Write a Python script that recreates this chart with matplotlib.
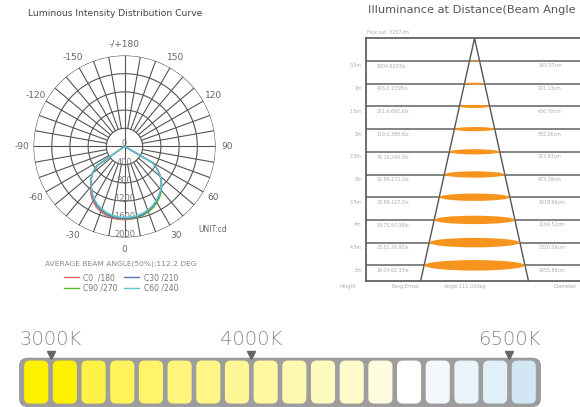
import numpy as np
import matplotlib.pyplot as plt
from matplotlib.patches import Ellipse, FancyBboxPatch

# ---------------- polar intensity data (cd), gamma -90..90 step 5 ----------------
gamma_deg = list(range(-90, 95, 5))
c0_180 = [0, 0, 0, 0, 0, 0, 20, 760, 935, 1050, 1160, 1290, 1390, 1470, 1530, 1570, 1595, 1605,
          1610, 1600, 1582, 1555, 1515, 1465, 1400, 1330, 1250, 1150, 1030, 890, 720, 20, 0, 0, 0, 0, 0]
c30_210 = [0, 0, 0, 0, 0, 0, 20, 750, 920, 1035, 1135, 1250, 1350, 1430, 1490, 1535, 1565, 1580,
           1585, 1580, 1570, 1545, 1505, 1455, 1395, 1320, 1245, 1145, 1025, 885, 715, 20, 0, 0, 0, 0, 0]
c90_270 = [0, 0, 0, 0, 0, 0, 20, 755, 925, 1040, 1140, 1255, 1355, 1435, 1495, 1540, 1570, 1585,
           1592, 1592, 1585, 1565, 1532, 1488, 1425, 1352, 1262, 1155, 1032, 888, 718, 20, 0, 0, 0, 0, 0]
c60_240 = [0, 0, 0, 0, 0, 0, 25, 770, 935, 1045, 1135, 1240, 1330, 1405, 1460, 1505, 1535, 1552,
           1558, 1556, 1545, 1522, 1485, 1440, 1380, 1312, 1240, 1145, 1030, 895, 725, 25, 0, 0, 0, 0, 0]
ring_values = [400, 800, 1200, 1600, 2000]
angle_ticks = [-150, -120, -90, -60, -30, 0, 30, 60, 90, 120, 150, 180]
avg_beam_angle = 112.2

# ---------------- illuminance at distance ----------------
heights_m = [0.5, 1, 1.5, 2, 2.5, 3, 3.5, 4, 4.5, 5]
height_labels = ["0.5m", "1m", "1.5m", "2m", "2.5m", "3m", "3.5m", "4m", "4.5m", "5m"]
eavg_lx = [1904, 476.0, 211.6, 119.0, 76.16, 52.89, 38.86, 29.75, 23.51, 19.04]
emax_lx = [6233, 1558, 692.6, 389.6, 249.3, 173.1, 127.2, 97.38, 76.95, 62.33]
diameter_cm = [145.57, 291.13, 436.70, 582.26, 727.83, 873.39, 1018.96, 1164.52, 1310.09, 1455.65]
beam_angle = 111.02
flux_out = 3287

# ---------------- CCT bar ----------------
cell_colors = ["#FFF000", "#FFF000", "#FFF247", "#FFF35A", "#FFF46A", "#FFF57C", "#FFF687",
               "#FFF795", "#FFF8A1", "#FFF9AF", "#FFFABD", "#FFFBCB", "#FFFCDF", "#FFFFFF",
               "#F2F8FC", "#E8F3FA", "#E0EFF8", "#D2E6F4"]
cct_labels = ["3000K", "4000K", "6500K"]
cct_gap_index = [1, 8, 17]

grid_c = "#555555"
txt_c = "#666666"

fig = plt.figure(figsize=(5.8, 4.07), dpi=100)

# ==================== polar chart ====================
ax_p = fig.add_axes([0.0578, 0.4165, 0.3138, 0.4472], projection="polar")
ax_p.set_theta_zero_location("S")
ax_p.set_theta_direction(1)
ax_p.set_ylim(0, ring_values[-1])
ax_p.set_axis_off()

full = np.linspace(0, 2 * np.pi, 361)
for r in ring_values:
    ax_p.plot(full, np.full_like(full, r), color=grid_c, lw=0.8, zorder=1)
for a in range(0, 360, 10):
    r0 = 0 if a % 90 == 0 else ring_values[0]
    ax_p.plot([np.radians(a)] * 2, [r0, ring_values[-1]], color=grid_c, lw=0.8, zorder=1)

for a in angle_ticks:
    lab = "-/+180" if a == 180 else str(a)
    ax_p.text(np.radians(a), 2260, lab, ha="center", va="center", fontsize=6.5,
              color=txt_c, clip_on=False)
for v in ring_values:
    ax_p.text(0, v - 55, str(v), ha="center", va="center", fontsize=6, color="#777777", zorder=2)
ax_p.text(np.pi, 60, "0", ha="center", va="center", fontsize=6, color="#777777", zorder=2)

th = np.radians(gamma_deg)
l_c0, = ax_p.plot(th, c0_180, color="#e8686a", lw=1.0, zorder=3)
l_c90, = ax_p.plot(th, c90_270, color="#5cb531", lw=1.0, zorder=3)
l_c30, = ax_p.plot(th, c30_210, color="#5a78b4", lw=1.0, zorder=3)
l_c60, = ax_p.plot(th, c60_240, color="#5ec6d6", lw=1.0, zorder=4)

fig.text(28 / 580, 0.968, "Luminous Intensity Distribution Curve", fontsize=6.6,
         color="#444444", ha="left", va="center")
fig.text(212.5 / 580, 1 - 229.5 / 407, "UNIT:cd", fontsize=5.5, color=txt_c,
         ha="center", va="center")
fig.text(121 / 580, 1 - 264 / 407, "AVERAGE BEAM ANGLE(50%):{} DEG".format(avg_beam_angle),
         fontsize=5.4, color="#888888", ha="center", va="center")
fig.legend([l_c0, l_c90, l_c30, l_c60], ["C0  /180", "C90 /270", "C30 /210", "C60 /240"],
           ncol=2, loc="center", bbox_to_anchor=(0.2086, 0.3054), frameon=False,
           fontsize=5.5, handlelength=2.0, handletextpad=0.6, columnspacing=0.8,
           labelspacing=0.15, labelcolor="#777777")

# ==================== illuminance chart ====================
ax_i = fig.add_axes([366 / 580, 1 - 281.3 / 407, 214 / 580, 243 / 407])
depth = 5.352
half_w = depth * 100 * np.tan(np.radians(beam_angle / 2))
ax_i.set_ylim(depth, 0)
ax_i.set_xlim(-2.01 * half_w, 1.953 * half_w)
ax_i.set_xticks([])
ax_i.set_yticks([])
for s in ["top", "left", "bottom"]:
    ax_i.spines[s].set_color(grid_c)
    ax_i.spines[s].set_linewidth(1.2)
ax_i.spines["right"].set_visible(False)

for h in heights_m:
    ax_i.axhline(h, color="#6e6e6e", lw=1.2, zorder=1)
ax_i.plot([-half_w, 0, half_w], [depth, 0, depth], color=grid_c, lw=1.0, zorder=2)
for h, d in zip(heights_m, diameter_cm):
    ax_i.add_patch(Ellipse((0, h), width=d, height=0.0463 * h, color="#F7941D", lw=0, zorder=3))

def fmt(v):
    return "{:#.4g}".format(v).rstrip(".")

tr = ax_i.get_yaxis_transform()
small = dict(fontsize=3.4, color="#aaaaaa", va="center", transform=tr, clip_on=False)
for h, lab, ea, em, d in zip(heights_m, height_labels, eavg_lx, emax_lx, diameter_cm):
    ax_i.text(-0.019, h + 0.11, lab, ha="right", **small)
    ax_i.text(0.051, h + 0.11, "{},{}lx".format(fmt(ea), fmt(em)), ha="left", **small)
    ax_i.text(0.804, h + 0.11, "{:.2f}cm".format(d), ha="left", **small)

ax_i.text(0.005, 1.022, "Flux out: {} lm".format(flux_out), fontsize=3.4, color="#aaaaaa",
          ha="left", va="center", transform=ax_i.transAxes)
bottom_y = -0.023
for x, lab in [(-0.084, "Height"), (0.182, "Eavg,Emax"), (0.463, "Angle:{}deg".format(beam_angle)),
               (0.93, "Diameter")]:
    ax_i.text(x, bottom_y, lab, fontsize=3.6, color="#aaaaaa", ha="center", va="center",
              transform=ax_i.transAxes, clip_on=False)

# title is cut at the right edge in the source, keep the visible part
fig.text(368 / 580, 1 - 10 / 407, "Illuminance at Distance(Beam Angle",
         fontsize=8.2, color="#555555", ha="left", va="center")

# ==================== CCT colour bar ====================
ax_b = fig.add_axes([19 / 580, 0, 522 / 580, 49.3 / 407])
n = len(cell_colors)
bar_h = 1.72
ax_b.set_xlim(-0.1, n + 0.1)
ax_b.set_ylim(0, bar_h)
ax_b.axis("off")
ax_b.add_patch(FancyBboxPatch((-0.1, 0), n + 0.2, bar_h, boxstyle="round,pad=0,rounding_size=0.3",
                              fc="#9d9d9d", ec="none", clip_on=False))
for i, c in enumerate(cell_colors):
    ax_b.add_patch(FancyBboxPatch((i + 0.08, 0.12), 0.84, 1.5, boxstyle="round,pad=0,rounding_size=0.2",
                                  fc=c, ec="none"))
ax_b.plot(cct_gap_index, [bar_h + 0.09] * len(cct_gap_index), ls="none", marker="v", ms=6,
          color="#666666", clip_on=False)
for x, lab in zip(cct_gap_index, cct_labels):
    ax_b.text(x, 2.36, lab, ha="center", va="center", fontsize=14, color="#8a8a8a",
              fontweight="light", clip_on=False)

plt.savefig("out.png", dpi=100)
